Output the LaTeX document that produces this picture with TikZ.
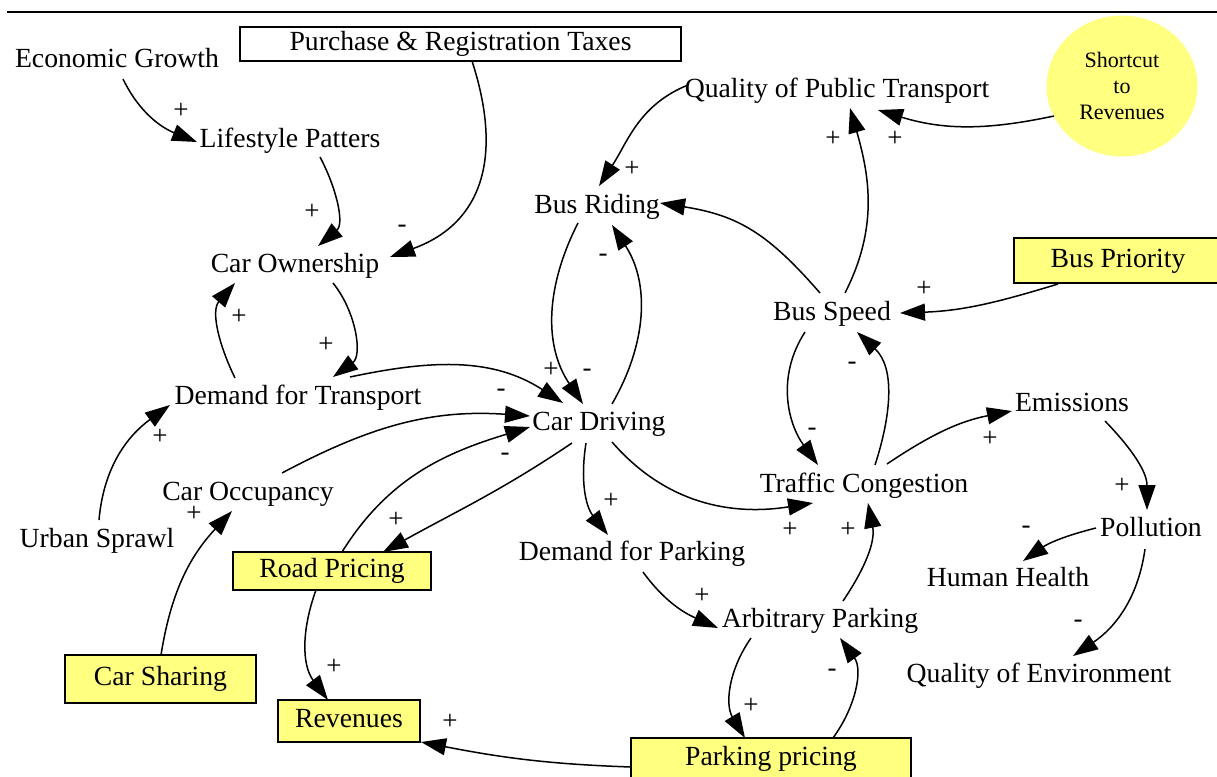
\documentclass[tikz,border=0pt]{standalone}
\usepackage{fontspec}
\setmainfont{Liberation Serif}
\usetikzlibrary{arrows.meta,shapes.geometric}
\definecolor{padyellow}{RGB}{255,255,128}
\begin{document}
\begin{tikzpicture}[x=1pt,y=1pt,
  var/.style={font=\fontsize{27.7pt}{33pt}\selectfont, text height=19pt, text depth=6pt, inner sep=0pt},
  policy/.style={var, draw=black, line width=1.5pt, fill=padyellow},
  sign/.style={font=\fontsize{27pt}{32pt}\selectfont, inner sep=0pt},
  link/.style={line width=1.5pt, -{Triangle[length=25pt,width=17pt]}},
]
\useasboundingbox (0,0) rectangle (1217,-776);
% header rule
\draw[line width=2pt] (7,-12) -- (1217,-12);

% variables
\node[var] (eg) at (117,-61) {Economic Growth};
\node[var, draw=black, line width=1.3pt, fill=white, minimum width=441pt, minimum height=34pt] (prt) at (460.5,-44) {Purchase \& Registration Taxes};
\node[var] (lp) at (290,-141) {Lifestyle Patters};
\node[var] (co) at (295,-266) {Car Ownership};
\node[var] (qpt) at (837,-91) {Quality of Public Transport};
\node[ellipse, fill=padyellow, minimum width=151pt, minimum height=141pt, inner sep=0pt, align=center, font=\fontsize{22pt}{26pt}\selectfont] (sr) at (1122,-86) {Shortcut\\to\\Revenues};
\node[var] (br) at (597,-207) {Bus Riding};
\node[policy, minimum width=208pt, minimum height=45pt] (bp) at (1118,-260.5) {Bus Priority};
\node[var] (bs) at (832,-314) {Bus Speed};
\node[var] (dt) at (298,-398) {Demand for Transport};
\node[var] (cd) at (599,-424) {Car Driving};
\node[var] (em) at (1072,-405) {Emissions};
\node[var] (tc) at (864,-486) {Traffic Congestion};
\node[var] (oc) at (248,-494) {Car Occupancy};
\node[var] (us) at (97,-541) {Urban Sprawl};
\node[policy, minimum width=198pt, minimum height=38pt] (rp) at (332,-571) {Road Pricing};
\node[var] (dp) at (632,-554) {Demand for Parking};
\node[var] (po) at (1151,-530) {Pollution};
\node[var] (hh) at (1008,-580) {Human Health};
\node[var] (ap) at (820,-621) {Arbitrary Parking};
\node[policy, minimum width=191pt, minimum height=48pt] (cs) at (160.5,-679) {Car Sharing};
\node[var] (qe) at (1039,-676) {Quality of Environment};
\node[policy, minimum width=142pt, minimum height=42pt] (rv) at (349,-721) {Revenues};
\node[policy, minimum width=280pt, minimum height=42pt] (pp) at (771,-759) {Parking pricing};

% causal links
\draw[link] ([shift={(6,-18)}]eg.center) to[out=-64,in=158] ([shift={(-93,-1)}]lp.center);
\draw[link] ([shift={(30,-16)}]lp.center) to[out=-62,in=40] ([shift={(23,20)}]co.center);
\draw[link] ([shift={(11.5,-17)}]prt.center) to[out=-72,in=20,looseness=1.2] ([shift={(95,9)}]co.center);
\draw[link] ([shift={(38,-17)}]co.center) to[out=-51,in=36] ([shift={(35,21)}]dt.center);
\draw[link] ([shift={(-63,20)}]dt.center) to[out=116,in=-131] ([shift={(-60,-17)}]co.center);
\draw[link] ([shift={(52,21)}]dt.center) to[out=12,in=147] ([shift={(-36,21)}]cd.center);
\draw[link] ([shift={(-19,-16)}]br.center) to[out=-117,in=124] ([shift={(-16,20)}]cd.center);
\draw[link] ([shift={(13,20)}]cd.center) to[out=60,in=-57] ([shift={(15,-18)}]br.center);
\draw[link] ([shift={(-149,6)}]qpt.center) to[out=-158,in=57] ([shift={(2,21)}]br.center);
\draw[link] ([shift={(-12,21)}]bs.center) to[out=131,in=-9,looseness=1.1] ([shift={(63,4)}]br.center);
\draw[link] ([shift={(13,21)}]bs.center) to[out=63,in=-74] ([shift={(13,-17)}]qpt.center);
\draw[link] ([shift={(-68,-30)}]sr.center) to[out=-168,in=-17] ([shift={(41,-19)}]qpt.center);
\draw[link] ([shift={(-60,-23.5)}]bp.center) to[out=-163,in=2] ([shift={(68,1)}]bs.center);
\draw[link] ([shift={(-27,-18)}]bs.center) to[out=-123,in=126] ([shift={(-46,21)}]tc.center);
\draw[link] ([shift={(11,21)}]tc.center) to[out=72,in=-43] ([shift={(25,-18)}]bs.center);
\draw[link] ([shift={(13,-18)}]cd.center) to[out=-49,in=-171] ([shift={(-51,-17)}]tc.center);
\draw[link] ([shift={(-13,-19)}]cd.center) to[out=-99,in=128] ([shift={(-24,19)}]dp.center);
\draw[link] ([shift={(23,22)}]tc.center) to[out=34,in=-169] ([shift={(-60,-6)}]em.center);
\draw[link] ([shift={(33,-16)}]em.center) to[out=-46,in=90] ([shift={(-4,20)}]po.center);
\draw[link] ([shift={(-55,2)}]po.center) to[out=-166,in=35] ([shift={(15,19)}]hh.center);
\draw[link] ([shift={(-6,-19)}]po.center) to[out=-98,in=34] ([shift={(34,20)}]qe.center);
\draw[link] ([shift={(11,-18)}]dp.center) to[out=-54,in=156] ([shift={(-102,-7)}]ap.center);
\draw[link] ([shift={(23,20)}]ap.center) to[out=56,in=-79] ([shift={(4,-17)}]tc.center);
\draw[link] ([shift={(-69,-17)}]ap.center) to[out=-125,in=121] ([shift={(-26,21)}]pp.center);
\draw[link] ([shift={(62,21)}]pp.center) to[out=54,in=-54] ([shift={(20,-17)}]ap.center);
\draw[link] ([shift={(-140,-8)}]pp.center) to[out=178,in=-11] ([shift={(72,-21)}]rv.center);
\draw[link] ([shift={(-16,-19)}]rp.center) to[out=-110,in=127] ([shift={(-21,21)}]rv.center);
\draw[link] ([shift={(0.5,24)}]cs.center) to[out=81,in=-133] ([shift={(-16,-17)}]oc.center);
\draw[link] ([shift={(2,21)}]us.center) to[out=85,in=-144] ([shift={(-128,-7)}]dt.center);
\draw[link] ([shift={(34,21)}]oc.center) to[out=28,in=176] ([shift={(-69,8)}]cd.center);
\draw[link] ([shift={(10,19)}]rp.center) to[out=58,in=-163] ([shift={(-69,-3)}]cd.center);
\draw[link] ([shift={(-27,-19)}]cd.center) to[out=-146,in=29] ([shift={(51,19)}]rp.center);

% polarity signs
\node[sign] (s1) at (181,-111) {+};
\node[sign] (s2) at (312,-212) {+};
\node[sign] (s3) at (402,-229) {-};
\node[sign] (s4) at (326,-345) {+};
\node[sign] (s5) at (239,-317) {+};
\node[sign] (s6) at (551,-370) {+};
\node[sign] (s7) at (587,-373) {-};
\node[sign] (s8) at (603,-258) {-};
\node[sign] (s9) at (632,-169) {+};
\node[sign] (s10) at (833,-139) {+};
\node[sign] (s11) at (895,-139) {+};
\node[sign] (s12) at (924,-289) {+};
\node[sign] (s13) at (812,-432) {-};
\node[sign] (s14) at (852,-366) {-};
\node[sign] (s15) at (790,-530) {+};
\node[sign] (s16) at (611,-501) {+};
\node[sign] (s17) at (990,-439) {+};
\node[sign] (s18) at (1122,-486) {+};
\node[sign] (s19) at (1026,-530) {-};
\node[sign] (s20) at (1078,-624) {-};
\node[sign] (s21) at (702,-596) {+};
\node[sign] (s22) at (848,-530) {+};
\node[sign] (s23) at (751,-706) {+};
\node[sign] (s24) at (832,-673) {-};
\node[sign] (s25) at (450,-722) {+};
\node[sign] (s26) at (334,-667) {+};
\node[sign] (s27) at (194,-514) {+};
\node[sign] (s28) at (160,-437) {+};
\node[sign] (s29) at (501,-393) {-};
\node[sign] (s30) at (505,-457) {-};
\node[sign] (s31) at (396,-520) {+};
\end{tikzpicture}
\end{document}
